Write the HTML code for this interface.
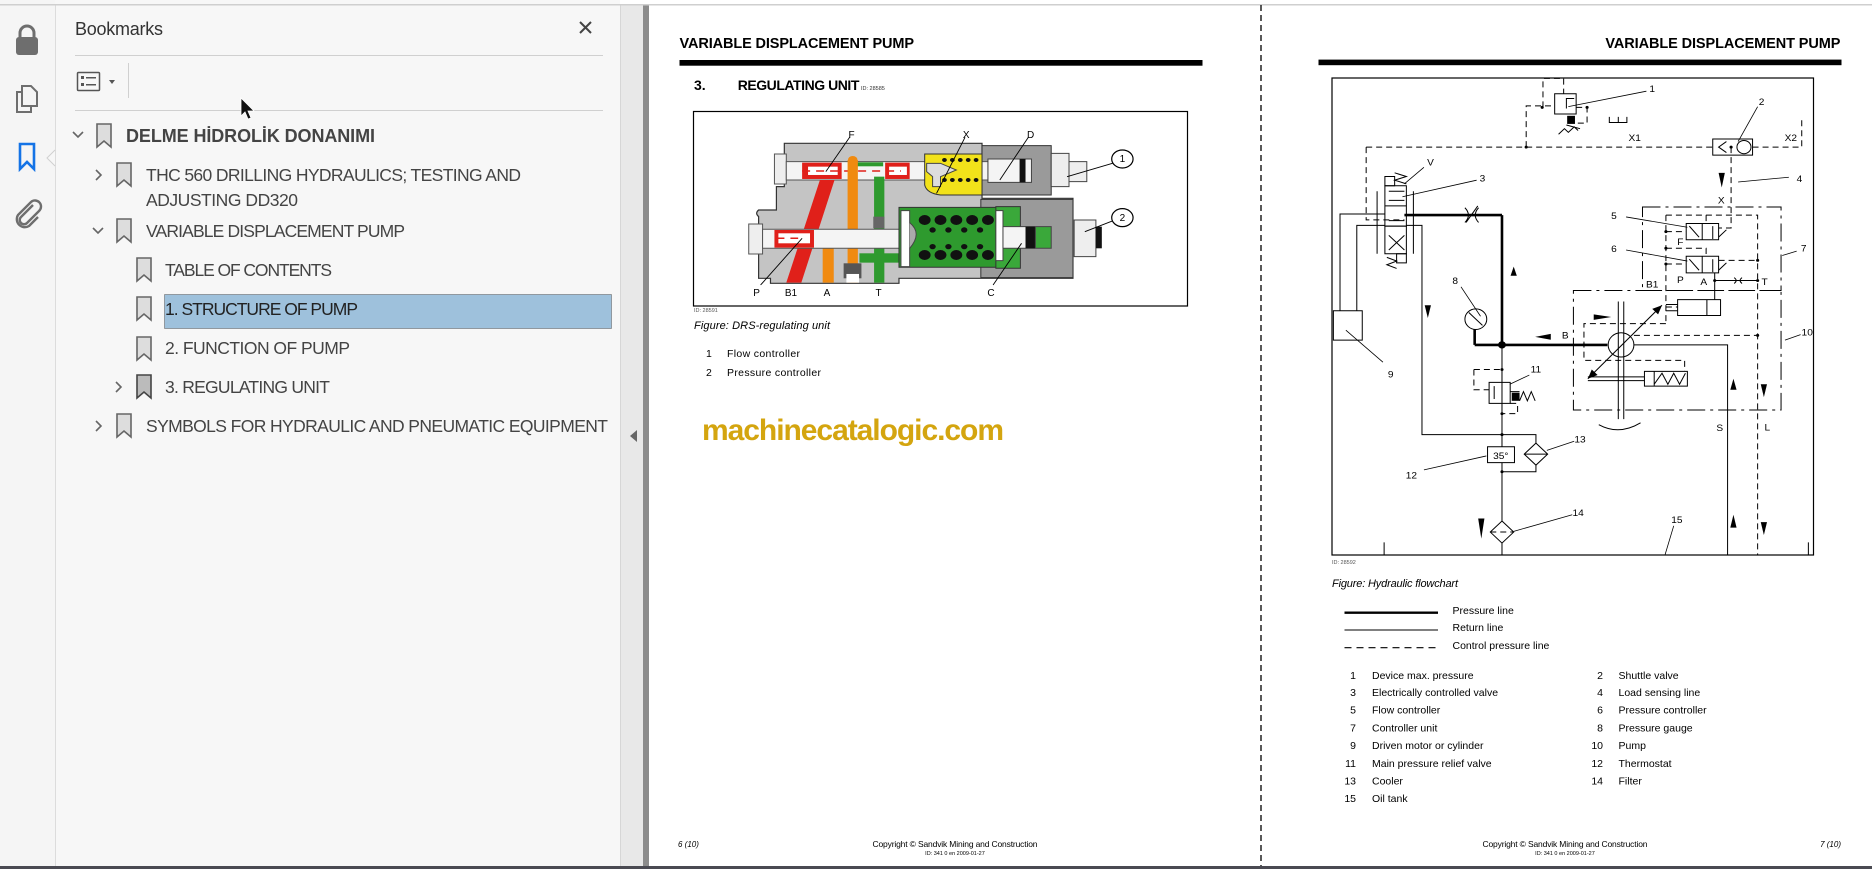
<!DOCTYPE html>
<html><head><meta charset="utf-8">
<style>
html,body{margin:0;padding:0;background:#fff;}
svg{display:block;}
text{font-family:"Liberation Sans",Arial,sans-serif;}
.ns{vector-effect:non-scaling-stroke;}
</style></head>
<body>
<svg width="1872" height="869" viewBox="0 0 1872 869" xmlns="http://www.w3.org/2000/svg">
<!-- backgrounds -->
<rect x="0" y="0" width="1872" height="869" fill="#fff"/>
<rect x="0" y="0" width="620" height="869" fill="#f7f7f7"/>
<rect x="0" y="0" width="55" height="869" fill="#f5f5f5"/>
<line x1="55.5" y1="5" x2="55.5" y2="869" stroke="#dcdcdc"/>
<rect x="620" y="5" width="23" height="864" fill="#e8e8e8"/>
<line x1="620.5" y1="5" x2="620.5" y2="869" stroke="#d6d6d6"/>
<rect x="643" y="5" width="6" height="864" fill="#8c8c8c"/>
<rect x="0" y="4" width="1872" height="1.5" fill="#cfcfcf"/>
<rect x="0" y="866" width="1872" height="3" fill="#4a4a52"/>
<line x1="1261" y1="5" x2="1261" y2="866" stroke="#222" stroke-width="1.5" stroke-dasharray="6,4"/>
<polygon points="637,430 637,442 630,436" fill="#666"/>

<!-- left icon bar -->
<g fill="#6e6e6e">
 <path d="M20,38 v-5 a7,7 0 0 1 14,0 v5" fill="none" stroke="#6e6e6e" stroke-width="3"/>
 <rect x="16" y="37" width="22" height="18" rx="3"/>
</g>
<g fill="none" stroke="#6e6e6e" stroke-width="2">
 <path d="M22,86 h9 l6,6 v14 h-15 z"/>
 <path d="M22,92 h-5 v20 h14 v-6"/>
 <path d="M20,144 h14 v25 l-7,-7 l-7,7 z" stroke="#1473e6" stroke-width="2.6"/>
 <path d="M33,205 l-12,12 a4,4 0 0 0 6,6 l12,-12 a6,6 0 0 0 -8,-9 l-13,13 a8,8 0 0 0 11,11 l9,-9" stroke-width="2.4"/>
</g>
<path d="M55,150 l-8,8 l8,8" fill="#f7f7f7" stroke="#d0d0d0"/>

<!-- bookmarks panel -->
<text x="75" y="35" font-size="18" fill="#333" textLength="88">Bookmarks</text>
<path d="M580,22 l11,11 M591,22 l-11,11" stroke="#444" stroke-width="2"/>
<line x1="75" y1="55.5" x2="603" y2="55.5" stroke="#d0d0d0"/>
<rect x="77.5" y="72.5" width="22" height="18" fill="none" stroke="#555" stroke-width="1.5" rx="1"/>
<g fill="#555"><rect x="81" y="76" width="3" height="3"/><rect x="86" y="77" width="10" height="1.5"/><rect x="81" y="83" width="3" height="3"/><rect x="86" y="84" width="10" height="1.5"/></g>
<polygon points="109,80 115,80 112,84" fill="#555"/>
<line x1="128.5" y1="63" x2="128.5" y2="98" stroke="#d0d0d0"/>
<line x1="75" y1="110.5" x2="603" y2="110.5" stroke="#d0d0d0"/>
<path d="M241,98 v18 l4,-4 l3,7 l3,-1 l-3,-7 h6 z" fill="#111" stroke="#fff" stroke-width="0.8"/>

<g fill="none" stroke="#666" stroke-width="1.6">
 <path d="M73,132 l5,5 l5,-5"/>
 <path d="M97,124 h14 v23 l-7,-6 l-7,6 z" fill="#ddd"/>
 <path d="M96,170 l5,5 l-5,5"/>
 <path d="M117,163 h14 v23 l-7,-6 l-7,6 z" fill="#ddd"/>
 <path d="M93,228 l5,5 l5,-5"/>
 <path d="M117,219 h14 v23 l-7,-6 l-7,6 z" fill="#ddd"/>
 <path d="M137,258 h14 v23 l-7,-6 l-7,6 z" fill="#ddd"/>
 <path d="M137,297 h14 v23 l-7,-6 l-7,6 z" fill="#ddd"/>
 <path d="M137,337 h14 v23 l-7,-6 l-7,6 z" fill="#ddd"/>
 <path d="M116,382 l5,5 l-5,5"/>
 <path d="M137,375 h14 v23 l-7,-6 l-7,6 z" fill="#bbb" stroke="#444"/>
 <path d="M96,421 l5,5 l-5,5"/>
 <path d="M117,414 h14 v23 l-7,-6 l-7,6 z" fill="#ddd"/>
</g>
<rect x="164.5" y="294.5" width="447" height="34" fill="#9ec1dc" stroke="#555" stroke-dasharray="1,1"/>
<g fill="#444" font-size="17.5">
 <text x="126" y="142" font-weight="bold" font-size="18" textLength="249">DELME HİDROLİK DONANIMI</text>
 <text x="146" y="181" textLength="375">THC 560 DRILLING HYDRAULICS; TESTING AND</text>
 <text x="146" y="206" textLength="152">ADJUSTING DD320</text>
 <text x="146" y="237" textLength="259">VARIABLE DISPLACEMENT PUMP</text>
 <text x="165" y="276" textLength="167">TABLE OF CONTENTS</text>
 <text x="165" y="315" textLength="193" fill="#222">1. STRUCTURE OF PUMP</text>
 <text x="165" y="354" textLength="185">2. FUNCTION OF PUMP</text>
 <text x="165" y="393" textLength="165">3. REGULATING UNIT</text>
 <text x="146" y="432" textLength="462">SYMBOLS FOR HYDRAULIC AND PNEUMATIC EQUIPMENT</text>
</g>

<!-- PAGE 1 -->
<text x="679.5" y="48" font-size="14.5" font-weight="bold" textLength="234.5">VARIABLE DISPLACEMENT PUMP</text>
<rect x="679.5" y="60" width="523" height="5.7" fill="#000"/>
<text x="694" y="90" font-size="14" font-weight="bold">3.</text>
<text x="737.7" y="90" font-size="14" font-weight="bold" textLength="121.7">REGULATING UNIT</text>
<text x="861" y="90" font-size="5.5" fill="#333">ID: 28585</text>
<rect x="693.5" y="111.5" width="494" height="194.5" fill="none" stroke="#000" stroke-width="1.2"/>

<g transform="translate(640,0) scale(0.3954,0.3333)">
 <!-- body -->
 <path d="M365,430 H865 V595 H1095 V835 H655 V850 H330 V835 H300 V650 Q290,640 300,630 H345 V560 H365 Z" fill="#c4c4c4" stroke="#333" stroke-width="1.2" class="ns"/>
 <rect x="865" y="437" width="175" height="148" fill="#9a9a9a" stroke="#333" class="ns"/>
 <rect x="862" y="598" width="233" height="235" fill="#9a9a9a" stroke="#333" class="ns"/>
 <rect x="340" y="462" width="30" height="90" fill="#eee" stroke="#555" class="ns"/>
 <!-- upper spool -->
 <rect x="370" y="485" width="510" height="55" fill="#f4f4f4" stroke="#555" class="ns"/>
 <rect x="410" y="488" width="100" height="49" fill="#e0201a"/>
 <rect x="425" y="500" width="75" height="25" fill="#fff"/>
 <rect x="620" y="488" width="62" height="49" fill="#e0201a"/>
 <rect x="630" y="500" width="45" height="25" fill="#fff"/>
 <rect x="540" y="487" width="75" height="12" fill="#2e9a2e"/>
 <line x1="410" y1="513" x2="660" y2="513" stroke="#e0201a" stroke-dasharray="8,6" stroke-width="1.5" class="ns"/>
 <!-- yellow -->
 <path d="M720,462 H865 V585 H760 Q725,580 720,555 Z" fill="#f2e21a" stroke="#333" class="ns"/>
 <g fill="#111"><circle cx="770" cy="480" r="6"/><circle cx="790" cy="480" r="6"/><circle cx="810" cy="480" r="6"/><circle cx="830" cy="480" r="6"/><circle cx="850" cy="480" r="6"/><circle cx="790" cy="540" r="6"/><circle cx="810" cy="540" r="6"/><circle cx="830" cy="540" r="6"/><circle cx="850" cy="540" r="6"/><circle cx="770" cy="540" r="6"/></g>
 <path d="M725,490 H760 L800,510 L760,530 V560 H740 V530 L725,515 Z" fill="#ddd" stroke="#444" class="ns"/>
 <rect x="880" y="477" width="110" height="70" fill="#f4f4f4" stroke="#444" class="ns"/>
 <rect x="960" y="477" width="15" height="70" fill="#111"/>
 <rect x="1040" y="460" width="45" height="100" fill="#eee" stroke="#444" class="ns"/>
 <rect x="1085" y="485" width="45" height="60" fill="#eee" stroke="#444" class="ns"/>
 <!-- channels -->
 <polygon points="455,540 492,540 408,848 370,848" fill="#e0201a"/>
 <rect x="525" y="480" width="26" height="368" fill="#f08a10"/>
 <circle cx="538" cy="480" r="12" fill="#f08a10"/>
 <rect x="462" y="690" width="90" height="55" fill="#f08a10"/>
 <rect x="462" y="690" width="28" height="158" fill="#f08a10"/>
 <rect x="592" y="530" width="26" height="318" fill="#2e9a2e"/>
 <rect x="555" y="760" width="100" height="28" fill="#2e9a2e"/>
 <rect x="590" y="650" width="28" height="35" fill="#666"/>
 <rect x="515" y="790" width="45" height="45" fill="#555"/>
 <rect x="522" y="822" width="32" height="26" fill="#fff"/>
 <!-- lower spool -->
 <rect x="275" y="672" width="35" height="90" fill="#eee" stroke="#555" class="ns"/>
 <rect x="310" y="688" width="380" height="57" fill="#f4f4f4" stroke="#555" class="ns"/>
 <rect x="340" y="690" width="100" height="53" fill="#e0201a"/>
 <rect x="350" y="700" width="80" height="30" fill="#fff"/>
 <line x1="345" y1="715" x2="400" y2="715" stroke="#e0201a" stroke-dasharray="8,6" stroke-width="1.5" class="ns"/>
 <!-- green chamber -->
 <rect x="655" y="622" width="305" height="180" fill="#2e9a2e" stroke="#333" class="ns"/>
 <rect x="900" y="620" width="62" height="185" fill="#3aa83a" stroke="#333" class="ns"/>
 <g fill="#111">
  <circle cx="720" cy="660" r="15"/><circle cx="760" cy="660" r="15"/><circle cx="800" cy="660" r="15"/><circle cx="840" cy="660" r="15"/><circle cx="880" cy="660" r="15"/>
  <circle cx="720" cy="765" r="15"/><circle cx="760" cy="765" r="15"/><circle cx="800" cy="765" r="15"/><circle cx="840" cy="765" r="15"/><circle cx="880" cy="765" r="15"/>
  <circle cx="740" cy="690" r="8"/><circle cx="780" cy="690" r="8"/><circle cx="820" cy="690" r="8"/><circle cx="860" cy="690" r="8"/>
  <circle cx="740" cy="740" r="8"/><circle cx="780" cy="740" r="8"/><circle cx="820" cy="740" r="8"/><circle cx="860" cy="740" r="8"/>
 </g>
 <rect x="660" y="632" width="22" height="168" fill="#fff" stroke="#444" class="ns"/>
 <path d="M682,668 Q715,700 682,745" fill="#aaa" stroke="#444" class="ns"/>
 <rect x="900" y="632" width="18" height="150" fill="#fff" stroke="#444" class="ns"/>
 <rect x="918" y="680" width="80" height="65" fill="#f4f4f4" stroke="#444" class="ns"/>
 <rect x="975" y="680" width="25" height="65" fill="#111"/>
 <rect x="1000" y="680" width="40" height="65" fill="#3aa83a" stroke="#444" class="ns"/>
 <rect x="1098" y="660" width="55" height="110" fill="#eee" stroke="#444" class="ns"/>
 <rect x="1153" y="680" width="15" height="65" fill="#111"/>
 <!-- leaders & circles -->
 <g stroke="#000" stroke-width="0.9" fill="none" class="ns">
  <line x1="530" y1="412" x2="470" y2="515" class="ns"/>
  <line x1="822" y1="412" x2="750" y2="580" class="ns"/>
  <line x1="982" y1="412" x2="910" y2="540" class="ns"/>
  <line x1="1195" y1="490" x2="1080" y2="530" class="ns"/>
  <line x1="1195" y1="663" x2="1125" y2="695" class="ns"/>
  <line x1="305" y1="855" x2="410" y2="715" class="ns"/>
  <line x1="893" y1="855" x2="965" y2="730" class="ns"/>
  <ellipse cx="1220" cy="477" rx="27" ry="27" class="ns" stroke-width="1.2"/>
  <ellipse cx="1220" cy="653" rx="27" ry="27" class="ns" stroke-width="1.2"/>
 </g>
</g>
<g font-size="10" text-anchor="middle">
 <text x="851.6" y="138">F</text><text x="966.2" y="138">X</text><text x="1030.6" y="138">D</text>
 <text x="1122.4" y="162">1</text><text x="1122.4" y="221">2</text>
 <text x="756.6" y="296">P</text><text x="791" y="296">B1</text><text x="827" y="296">A</text><text x="878.5" y="296">T</text><text x="991" y="296">C</text>
</g>
<text x="694" y="312" font-size="5.5" fill="#555">ID: 28591</text>
<text x="694" y="329" font-size="11" font-style="italic" textLength="136">Figure: DRS-regulating unit</text>
<text x="706" y="357" font-size="10.5">1</text><text x="727" y="357" font-size="10.5" textLength="73">Flow controller</text>
<text x="706" y="376" font-size="10.5">2</text><text x="727" y="376" font-size="10.5" textLength="94">Pressure controller</text>
<text x="702" y="440" font-size="30" font-weight="bold" fill="#d4a50f" textLength="302">machinecatalogic.com</text>
<text x="678" y="847" font-size="8" font-style="italic">6 (10)</text>
<text x="955" y="847" font-size="8.5" text-anchor="middle" textLength="165">Copyright © Sandvik Mining and Construction</text>
<text x="955" y="855" font-size="5.5" text-anchor="middle">ID: 341 0 en 2009-01-27</text>

<!-- PAGE 2 -->
<text x="1840.4" y="48" font-size="14.5" font-weight="bold" text-anchor="end" textLength="235">VARIABLE DISPLACEMENT PUMP</text>
<rect x="1318.5" y="59.6" width="523" height="5.6" fill="#000"/>
<rect x="1332" y="78" width="481.5" height="477" fill="none" stroke="#000" stroke-width="1.2"/>

<g transform="translate(1260,0) scale(0.3903,0.3677)" fill="none" stroke="#000">
 <g stroke-width="1" class="ns">
  <!-- dashed control lines -->
  <g stroke-dasharray="6,4">
   <path class="ns" d="M272,400 H1160 M1262,400 H1388 V318 M272,400 V598 H370 M682,400 V288 H755 M725,292 V213 H778 V255 M810,292 H838 V335 H810 M1207,400 V620 H1175"/>
   <path class="ns" d="M548,1005 H620 M548,1005 V1060 H587 M641,1097 H660 V1125 H620"/>
   <path class="ns" d="M1040,585 H1275 V1510 M1040,585 V880 H1040 M1040,630 H1092 M1040,718 H1092 M1040,675 H1143 V697 M1143,585 V608 M1175,708 H1275 M958,912 H1275 M1040,835 H1070 M1040,880 H830 V980 H1088 V1010"/>
  </g>
  <!-- dash-dot boxes -->
  <g stroke-dasharray="18,5,3,5">
   <rect class="ns" x="980" y="563" width="355" height="227"/>
   <rect class="ns" x="803" y="790" width="532" height="325"/>
  </g>
  <!-- return lines -->
  <path class="ns" d="M205,845 V582 H320 M248,845 V613 H320 M375,613 H415 V1182 H707 V1205 M707,1265 V1283 H620 M620,940 V1510 M958,938 H1198 V1510 M1165,763 H1275 M1165,742 V815"/>
  <line class="ns" x1="318" y1="1475" x2="318" y2="1510"/>
  <line class="ns" x1="1405" y1="1475" x2="1405" y2="1510"/>
  <path class="ns" d="M895,318 V333 H940 V318 M918,333 V318"/>
  <!-- valves -->
  <rect class="ns" x="755" y="255" width="55" height="55"/>
  <path class="ns" d="M785,295 V268 H805"/>
  <path class="ns" d="M765,365 L780,350 L790,360 L805,345 L815,355 M785,340 L820,350"/>
  <rect x="787" y="315" width="20" height="22" fill="#000" stroke="none"/>
  <rect class="ns" x="1160" y="378" width="102" height="44"/>
  <path class="ns" d="M1195,385 L1175,400 L1195,415"/>
  <circle class="ns" cx="1240" cy="400" r="18"/>
  <!-- valve 3 -->
  <rect class="ns" x="320" y="480" width="25" height="25"/>
  <rect class="ns" x="320" y="505" width="55" height="110"/>
  <rect class="ns" x="320" y="615" width="55" height="75"/>
  <rect class="ns" x="350" y="690" width="25" height="25"/>
  <path class="ns" d="M320,560 H375 M300,520 V690 M393,520 V690 M345,470 L375,480 L345,490 L375,500 M325,700 L350,710 L325,720 L350,730"/>
  <path class="ns" d="M330,640 L370,680 M330,680 L370,640 M330,520 H370 M330,545 H370 M330,600 H370"/>
  <line class="ns" x1="370" y1="585" x2="620" y2="585" stroke-width="2.6"/>
  <line class="ns" x1="620" y1="585" x2="620" y2="940" stroke-width="2.6"/>
  <line class="ns" x1="550" y1="938" x2="890" y2="938" stroke-width="2.6"/>
  <line class="ns" x1="550" y1="896" x2="550" y2="938" stroke-width="2.6"/>
  <path class="ns" d="M525,565 Q543,585 525,605 M560,565 Q543,585 560,605 M528,605 L558,560"/>
  <!-- gauge -->
  <circle class="ns" cx="553" cy="868" r="28"/>
  <line class="ns" x1="535" y1="850" x2="570" y2="885"/>
  <!-- motor 9 -->
  <rect class="ns" x="188" y="845" width="74" height="80"/>
  <!-- relief 11 -->
  <rect class="ns" x="587" y="1040" width="54" height="57"/>
  <path class="ns" d="M620,1040 V1000 M620,1097 V1130 M600,1050 V1085 M641,1065 H665 M665,1090 L675,1065 L685,1090 L695,1065 L705,1090"/>
  <rect x="645" y="1068" width="20" height="22" fill="#000" stroke="none"/>
  <!-- thermostat / cooler / filter -->
  <rect class="ns" x="583" y="1215" width="69" height="43" fill="#fff"/>
  <polygon class="ns" points="707,1205 737,1235 707,1265 677,1235" fill="#fff"/>
  <line class="ns" x1="677" y1="1235" x2="737" y2="1235"/>
  <polygon class="ns" points="620,1417 650,1447 620,1477 590,1447" fill="#fff"/>
  <line class="ns" x1="590" y1="1447" x2="650" y2="1447" stroke-dasharray="6,4"/>
  <!-- controller valves -->
  <rect class="ns" x="1092" y="608" width="83" height="44"/>
  <line class="ns" x1="1133" y1="608" x2="1133" y2="652"/>
  <rect class="ns" x="1092" y="697" width="83" height="45"/>
  <line class="ns" x1="1133" y1="697" x2="1133" y2="742"/>
  <path class="ns" d="M1100,615 L1125,645 M1100,705 L1125,735 M1160,650 V615 M1160,740 V705 M1175,645 L1195,625 M1175,735 L1195,715"/>
  <path class="ns" d="M1215,755 Q1225,763 1215,771 M1235,755 Q1225,763 1235,771"/>
  <!-- pump -->
  <circle class="ns" cx="925" cy="938" r="33"/>
  <path class="ns" d="M918,820 V1140 M932,820 V1140"/>
  <line class="ns" x1="840" y1="1030" x2="1030" y2="830"/>
  <rect class="ns" x="1070" y="815" width="110" height="43"/>
  <path class="ns" d="M1145,815 V858 M1040,828 H1070 M1040,845 H1070"/>
  <rect class="ns" x="985" y="1010" width="110" height="40"/>
  <path class="ns" d="M1010,1010 V1050 M1010,1045 L1030,1015 L1045,1045 L1060,1015 L1075,1045 L1090,1015 M840,1025 H985 M840,1035 H985"/>
  <path class="ns" d="M868,1155 Q920,1185 975,1150"/>
  <!-- leaders -->
  <path class="ns" stroke-width="0.8" d="M990,248 L790,290 M1275,290 L1225,385 M1355,482 L1225,495 M938,590 L1095,618 M938,680 L1095,710 M1375,683 L1338,695 M1385,910 L1345,925 M420,455 L370,500 M555,490 L365,535 M515,780 L565,860 M220,898 L315,985 M690,1020 L640,1045 M420,1278 L580,1240 M735,1225 L805,1200 M650,1445 L800,1400 M1060,1430 L1038,1508"/>
 </g>
 <!-- filled items -->
 <g fill="#000" stroke="none">
  <circle cx="620" cy="938" r="10"/>
  <circle cx="682" cy="400" r="4"/><circle cx="723" cy="292" r="4"/><circle cx="838" cy="292" r="4"/><circle cx="1207" cy="400" r="4"/>
  <circle cx="620" cy="1182" r="4"/><circle cx="620" cy="1283" r="4"/><circle cx="620" cy="1005" r="4"/><circle cx="620" cy="1125" r="4"/>
  <circle cx="1040" cy="630" r="4"/><circle cx="1040" cy="675" r="4"/><circle cx="1040" cy="718" r="4"/><circle cx="1165" cy="763" r="4"/><circle cx="1275" cy="708" r="4"/><circle cx="1275" cy="763" r="4"/><circle cx="1275" cy="912" r="4"/><circle cx="830" cy="938" r="4"/>
  <polygon points="1175,470 1191,470 1183,510"/>
  <polygon points="642,750 658,750 650,725"/>
  <polygon points="422,830 438,830 430,865"/>
  <polygon points="559,1410 575,1410 567,1465"/>
  <polygon points="1205,1060 1221,1060 1213,1030"/>
  <polygon points="1205,1435 1221,1435 1213,1400"/>
  <polygon points="1283,1045 1299,1045 1291,1080"/>
  <polygon points="1283,1420 1299,1420 1291,1455"/>
  <polygon points="705,916 745,908 745,924"/>
  <polygon points="855,855 900,862 855,870"/>
  <polygon points="1030,830 1005,840 1020,855"/>
  <polygon points="840,1030 865,1020 850,1005"/>
 </g>
 <g fill="#000" stroke="none" font-size="26" font-family="Liberation Sans, sans-serif" text-anchor="middle">
  <text x="1005" y="250">1</text><text x="1285" y="285">2</text><text x="570" y="493">3</text><text x="1382" y="495">4</text>
  <text x="907" y="595">5</text><text x="907" y="686">6</text><text x="1393" y="684">7</text><text x="500" y="772">8</text>
  <text x="335" y="1027">9</text><text x="1402" y="913">10</text><text x="707" y="1013">11</text><text x="388" y="1302">12</text>
  <text x="820" y="1203">13</text><text x="815" y="1403">14</text><text x="1068" y="1422">15</text>
  <text x="960" y="384">X1</text><text x="1360" y="384">X2</text><text x="437" y="450">V</text><text x="1182" y="553">X</text>
  <text x="1077" y="666">F</text><text x="1077" y="770">P</text><text x="1137" y="775">A</text><text x="1293" y="775">T</text><text x="1005" y="782">B1</text>
  <text x="782" y="921">B</text><text x="1178" y="1172">S</text><text x="1300" y="1171">L</text><text x="617" y="1248">35°</text>
 </g>
</g>
<text x="1332" y="564" font-size="5.5" fill="#555">ID: 28592</text>
<text x="1332" y="587" font-size="11" font-style="italic" textLength="126">Figure: Hydraulic flowchart</text>
<line x1="1344.5" y1="612.7" x2="1438" y2="612.7" stroke="#000" stroke-width="2.4"/>
<line x1="1344.5" y1="630" x2="1438" y2="630" stroke="#000" stroke-width="1.1"/>
<line x1="1344.5" y1="647.7" x2="1438" y2="647.7" stroke="#000" stroke-width="1.1" stroke-dasharray="7,5"/>
<g font-size="10.5">
 <text x="1452.5" y="614">Pressure line</text>
 <text x="1452.5" y="631">Return line</text>
 <text x="1452.5" y="649">Control pressure line</text>
 <g text-anchor="end">
  <text x="1356" y="679">1</text><text x="1356" y="696">3</text><text x="1356" y="713.5">5</text><text x="1356" y="731.5">7</text><text x="1356" y="749">9</text><text x="1356" y="767">11</text><text x="1356" y="784.5">13</text><text x="1356" y="802">15</text>
  <text x="1603" y="679">2</text><text x="1603" y="696">4</text><text x="1603" y="713.5">6</text><text x="1603" y="731.5">8</text><text x="1603" y="749">10</text><text x="1603" y="767">12</text><text x="1603" y="784.5">14</text>
 </g>
 <text x="1372" y="679">Device max. pressure</text><text x="1372" y="696">Electrically controlled valve</text><text x="1372" y="713.5">Flow controller</text><text x="1372" y="731.5">Controller unit</text><text x="1372" y="749">Driven motor or cylinder</text><text x="1372" y="767">Main pressure relief valve</text><text x="1372" y="784.5">Cooler</text><text x="1372" y="802">Oil tank</text>
 <text x="1618.5" y="679">Shuttle valve</text><text x="1618.5" y="696">Load sensing line</text><text x="1618.5" y="713.5">Pressure controller</text><text x="1618.5" y="731.5">Pressure gauge</text><text x="1618.5" y="749">Pump</text><text x="1618.5" y="767">Thermostat</text><text x="1618.5" y="784.5">Filter</text>
</g>
<text x="1565" y="847" font-size="8.5" text-anchor="middle" textLength="165">Copyright © Sandvik Mining and Construction</text>
<text x="1565" y="855" font-size="5.5" text-anchor="middle">ID: 341 0 en 2009-01-27</text>
<text x="1841" y="847" font-size="8" font-style="italic" text-anchor="end">7 (10)</text>
</svg>
</body></html>
